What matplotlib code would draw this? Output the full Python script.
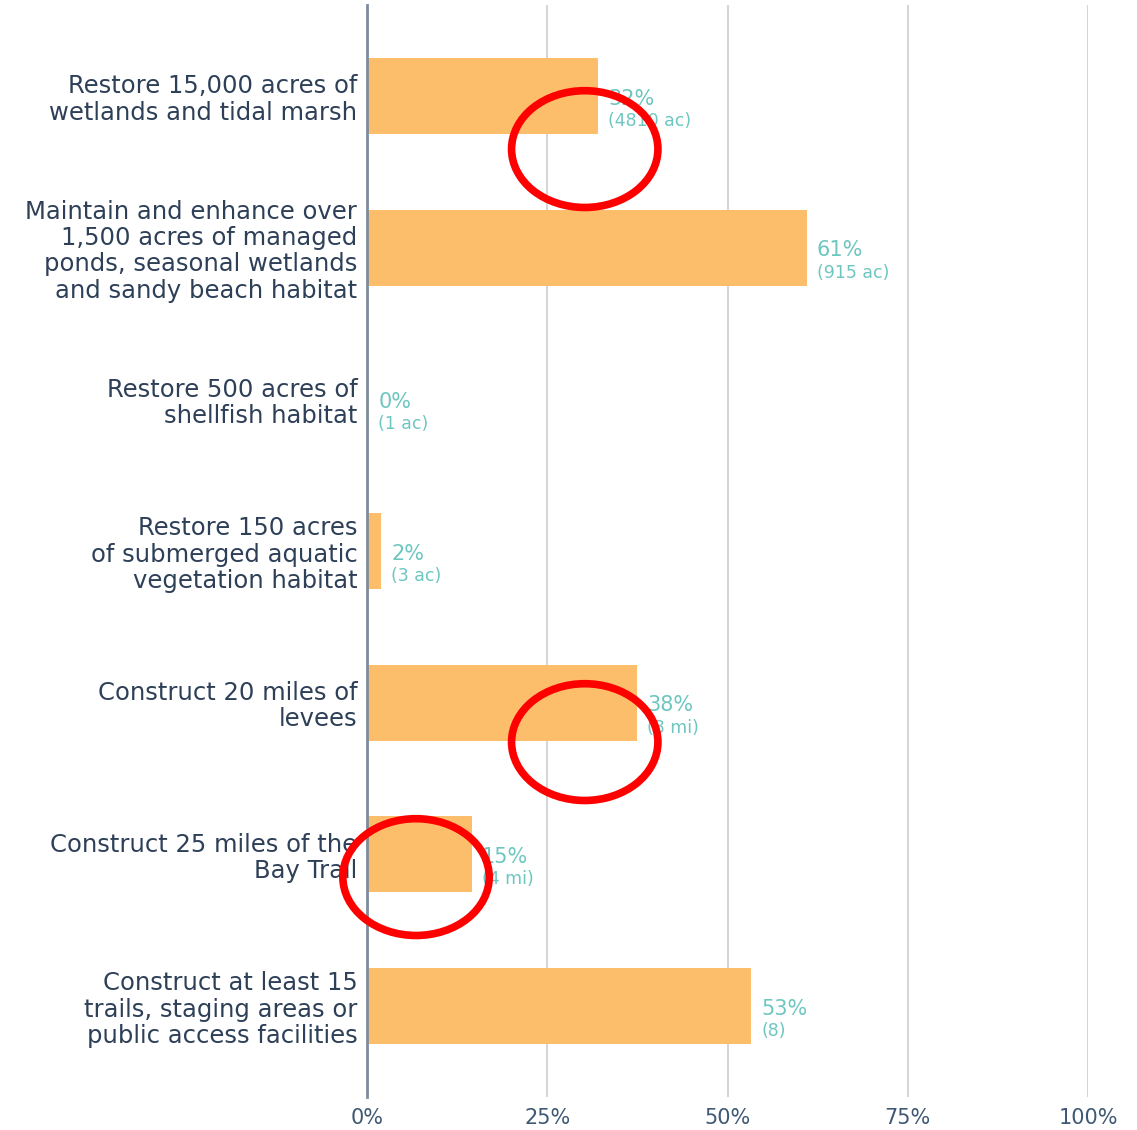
import matplotlib
matplotlib.use("Agg")
import matplotlib.pyplot as plt
from matplotlib.patches import Ellipse

categories = [
    "Restore 15,000 acres of\nwetlands and tidal marsh",
    "Maintain and enhance over\n1,500 acres of managed\nponds, seasonal wetlands\nand sandy beach habitat",
    "Restore 500 acres of\nshellfish habitat",
    "Restore 150 acres\nof submerged aquatic\nvegetation habitat",
    "Construct 20 miles of\nlevees",
    "Construct 25 miles of the\nBay Trail",
    "Construct at least 15\ntrails, staging areas or\npublic access facilities",
]
values = [32.1, 61.0, 0.2, 2.0, 37.5, 14.6, 53.3]
pct_labels = ["32%", "61%", "0%", "2%", "38%", "15%", "53%"]
amount_labels = ["(4810 ac)", "(915 ac)", "(1 ac)", "(3 ac)", "(8 mi)", "(4 mi)", "(8)"]
xticks = [0, 25, 50, 75, 100]
xtick_labels = ["0%", "25%", "50%", "75%", "100%"]

# highlight ellipses (annotation): centre x (%), centre y (category units)
highlights = [(30.2, 0.35), (30.2, 4.26), (6.8, 5.15)]

FONT = ["DejaVu Sans"]
plt.rcParams["font.family"] = FONT

fig = plt.figure(figsize=(11.37, 11.30), dpi=100)
ax = fig.add_axes([367 / 1137, 1 - 1097 / 1130, (1088 - 367) / 1137, (1097 - 5) / 1130])

bar_color = "#FDBE6B"
teal = "#6EC6C0"
navy = "#2E4058"

ypos = list(range(len(categories)))
ax.barh(ypos, values, height=0.5, color=bar_color, zorder=2)
ax.set_xlim(0, 100)
ax.set_ylim(6.6, -0.6)

ax.set_xticks(xticks)
ax.set_xticklabels(xtick_labels, fontsize=15, color="#3F5873")
ax.tick_params(axis="x", length=0, pad=8)
ax.set_yticks(ypos)
ax.set_yticklabels(categories, fontsize=17.5, color=navy, linespacing=1.12)
ax.tick_params(axis="y", length=0, pad=7)

ax.grid(axis="x", color="#D6D6D6", linewidth=1.5, zorder=0)
for s in ["top", "right", "bottom"]:
    ax.spines[s].set_visible(False)
ax.spines["left"].set_color("#7D8C9B")
ax.spines["left"].set_linewidth(2)
ax.spines["left"].set_zorder(3)

for y, v, p, a in zip(ypos, values, pct_labels, amount_labels):
    ax.annotate(p, xy=(v, y), xytext=(7, -2), textcoords="offset points",
                ha="left", va="center", fontsize=15, color=teal, zorder=4)
    ax.annotate(a, xy=(v, y), xytext=(7, -18), textcoords="offset points",
                ha="left", va="center", fontsize=12.5, color=teal, zorder=4)

for cx, cy in highlights:
    e = Ellipse((cx, cy), width=20.3, height=0.77, fill=False,
                edgecolor="#FF0000", linewidth=5.5, zorder=5, clip_on=False)
    ax.add_patch(e)

fig.savefig("out.png", dpi=100)
